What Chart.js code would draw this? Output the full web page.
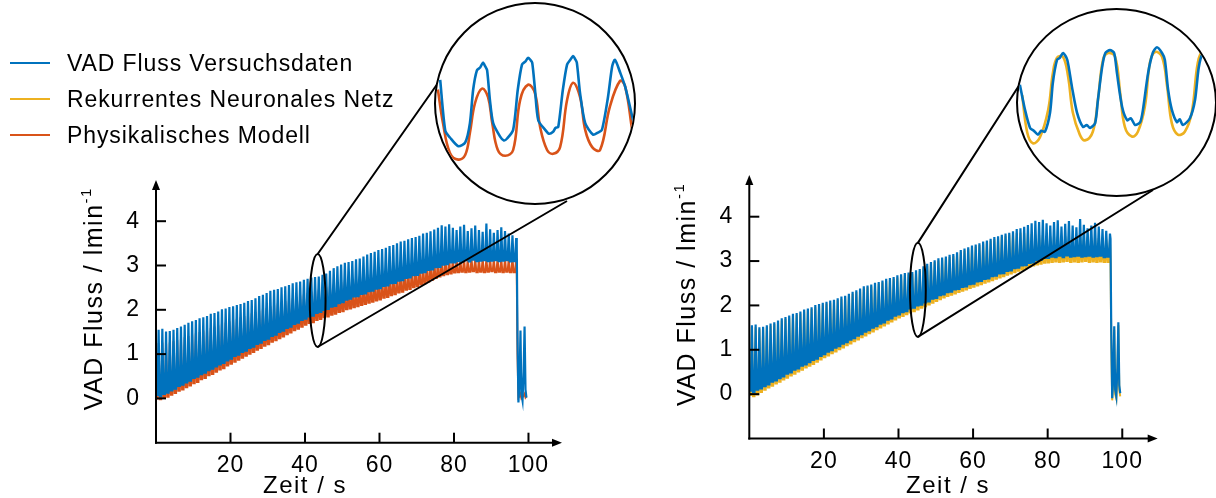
<!DOCTYPE html>
<html>
<head>
<meta charset="utf-8">
<script src="https://cdn.jsdelivr.net/npm/chart.js@4.4.1/dist/chart.umd.min.js"></script>
<style>
html,body{margin:0;padding:0;background:#fff;overflow:hidden;width:1216px;height:498px;}
#wrap{position:relative;width:1216px;height:498px;overflow:hidden;}
canvas.main{position:absolute;top:0;}
.inset{position:absolute;border:2px solid #000;border-radius:50%;overflow:hidden;box-sizing:border-box;background:#fff;z-index:2;}
.inset canvas{display:block;}
#legend{position:absolute;left:0;top:0;z-index:3;font-family:"Liberation Sans",Arial,sans-serif;font-size:23px;letter-spacing:0.9px;color:#000;}
.item{position:absolute;left:10px;height:26px;display:flex;align-items:center;white-space:nowrap;}
.sw{display:inline-block;width:40px;height:2px;margin-right:17px;}
</style>
</head>
<body>
<div id="wrap">
  <canvas id="left" class="main" width="608" height="498" style="left:0"></canvas>
  <canvas id="right" class="main" width="608" height="498" style="left:608px"></canvas>
  <div class="inset" style="left:434px;top:2px;width:202px;height:203px;"><canvas id="insetL" width="198" height="199"></canvas></div>
  <div class="inset" style="left:1016px;top:8px;width:201px;height:189px;"><canvas id="insetR" width="197" height="185"></canvas></div>
  <div id="legend">
    <div class="item" style="top:50px"><span class="sw" style="background:#0072BD"></span>VAD Fluss Versuchsdaten</div>
    <div class="item" style="top:86px"><span class="sw" style="background:#EDB120"></span>Rekurrentes Neuronales Netz</div>
    <div class="item" style="top:122px"><span class="sw" style="background:#D95319"></span>Physikalisches Modell</div>
  </div>
</div>
<script>
// ================= DATA =================
// Tick labels
const xTickValues = [20, 40, 60, 80, 100];
const yTickValues = [0, 1, 2, 3, 4];

// Pump cycles (about 1 s each). Each cycle: diastolic plateau at the trough value
// (t = k ... k+0.4 s), then the systolic peak (t = k+0.7 s).
const cyclePhase = {troughStart: 0, troughEnd: 0.4, peak: 0.7};
// VAD Fluss Versuchsdaten (measured)
const vadTroughs = [0.08,0.05,0.10,0.13,0.18,0.22,0.28,0.31,0.36,0.40,
  0.46,0.49,0.55,0.58,0.64,0.67,0.72,0.77,0.80,0.86,
  0.90,0.96,0.99,1.05,1.08,1.14,1.17,1.23,1.26,1.32,
  1.35,1.41,1.44,1.50,1.53,1.59,1.62,1.68,1.71,1.77,
  1.80,1.85,1.87,1.93,1.95,2.00,2.02,2.07,2.09,2.15,
  2.17,2.23,2.25,2.30,2.31,2.36,2.37,2.42,2.43,2.48,
  2.49,2.54,2.55,2.60,2.61,2.66,2.67,2.72,2.73,2.78,
  2.79,2.84,2.85,2.90,2.91,2.96,2.97,3.02,3.03,3.07,
  3.07,3.10,3.09,3.12,3.09,3.13,3.10,3.11,3.12,3.10,
  3.11,3.12,3.10,3.11,3.12,3.09,3.10];
const vadPeaks = [1.55,1.57,1.51,1.52,1.55,1.59,1.62,1.66,1.71,1.74,
  1.77,1.81,1.83,1.86,1.91,1.93,1.96,2.01,2.03,2.06,
  2.08,2.11,2.13,2.16,2.20,2.22,2.26,2.31,2.34,2.38,
  2.43,2.45,2.47,2.51,2.53,2.56,2.60,2.62,2.64,2.68,
  2.70,2.73,2.74,2.75,2.79,2.82,2.88,2.94,2.98,3.02,
  3.06,3.08,3.10,3.14,3.16,3.20,3.25,3.28,3.31,3.35,
  3.37,3.40,3.44,3.46,3.50,3.54,3.56,3.59,3.62,3.64,
  3.67,3.72,3.74,3.77,3.81,3.85,3.91,3.88,3.93,3.85,
  3.80,3.88,3.92,3.78,3.84,3.90,3.80,3.76,3.95,3.82,
  3.74,3.80,3.86,3.78,3.72,3.68,3.62];
// Physikalisches Modell
const physTroughs = [0.00,-0.02,0.01,0.04,0.08,0.12,0.17,0.20,0.25,0.29,
  0.34,0.37,0.43,0.46,0.52,0.55,0.60,0.65,0.68,0.74,
  0.78,0.83,0.87,0.92,0.96,1.01,1.05,1.10,1.14,1.19,
  1.22,1.28,1.31,1.36,1.40,1.45,1.49,1.54,1.57,1.62,
  1.66,1.70,1.72,1.77,1.79,1.83,1.85,1.89,1.91,1.95,
  1.97,2.01,2.03,2.06,2.08,2.11,2.13,2.16,2.18,2.21,
  2.23,2.27,2.29,2.33,2.35,2.39,2.41,2.45,2.47,2.51,
  2.53,2.57,2.60,2.64,2.68,2.72,2.75,2.78,2.80,2.82,
  2.84,2.85,2.86,2.85,2.86,2.87,2.85,2.86,2.85,2.86,
  2.87,2.85,2.86,2.85,2.86,2.85,2.85];
const physPeaks = [1.25,1.26,1.24,1.26,1.29,1.32,1.35,1.38,1.41,1.44,
  1.47,1.50,1.53,1.56,1.59,1.62,1.65,1.68,1.71,1.74,
  1.77,1.80,1.83,1.86,1.89,1.92,1.95,1.98,2.01,2.04,
  2.08,2.11,2.14,2.17,2.20,2.23,2.26,2.29,2.32,2.35,
  2.38,2.41,2.44,2.46,2.48,2.51,2.54,2.57,2.60,2.63,
  2.66,2.69,2.71,2.73,2.75,2.77,2.79,2.81,2.83,2.85,
  2.87,2.89,2.91,2.93,2.95,2.97,2.99,3.01,3.03,3.05,
  3.07,3.09,3.11,3.13,3.15,3.17,3.18,3.18,3.17,3.16,
  3.16,3.15,3.16,3.15,3.16,3.17,3.15,3.16,3.15,3.16,
  3.15,3.16,3.15,3.16,3.15,3.16,3.15];
// Rekurrentes Neuronales Netz
const rnnTroughs = [-0.02,-0.05,-0.01,0.05,0.10,0.15,0.19,0.24,0.28,0.33,
  0.37,0.42,0.46,0.51,0.55,0.60,0.64,0.68,0.73,0.78,
  0.83,0.87,0.92,0.96,1.01,1.05,1.10,1.14,1.19,1.23,
  1.28,1.32,1.37,1.41,1.46,1.50,1.55,1.59,1.64,1.68,
  1.73,1.76,1.80,1.84,1.87,1.91,1.95,1.98,2.02,2.06,
  2.10,2.14,2.18,2.21,2.24,2.27,2.30,2.33,2.36,2.39,
  2.42,2.45,2.48,2.51,2.54,2.57,2.60,2.63,2.66,2.69,
  2.72,2.75,2.78,2.81,2.84,2.87,2.90,2.92,2.94,2.96,
  2.97,2.98,2.99,2.98,2.99,3.00,2.98,2.99,2.98,2.99,
  3.00,2.98,2.99,2.98,2.99,2.98,2.98];
const rnnPeaks = [1.50,1.51,1.46,1.48,1.51,1.54,1.58,1.62,1.66,1.70,
  1.73,1.76,1.79,1.82,1.86,1.89,1.92,1.96,1.99,2.02,
  2.04,2.06,2.09,2.12,2.15,2.18,2.22,2.26,2.30,2.34,
  2.38,2.41,2.43,2.46,2.49,2.52,2.55,2.58,2.60,2.63,
  2.66,2.68,2.70,2.71,2.74,2.78,2.84,2.89,2.94,2.98,
  3.01,3.04,3.06,3.09,3.12,3.16,3.20,3.24,3.27,3.30,
  3.33,3.36,3.39,3.42,3.46,3.49,3.52,3.55,3.57,3.60,
  3.62,3.63,3.64,3.63,3.62,3.61,3.60,3.59,3.58,3.57,
  3.56,3.56,3.55,3.55,3.56,3.55,3.54,3.55,3.54,3.55,
  3.54,3.53,3.52,3.52,3.51,3.50,3.45];
// Shut-down at the end of the run
const tailTimes  = [96.85, 97.05, 97.3, 97.6, 97.85, 98.1, 98.4, 98.7, 98.95, 99.2, 99.45];
const vadTail    = [3.50, 1.40, -0.09, 0.40, 1.53, 0.10, -0.05, 0.60, 1.62, 0.20, 0.02];
const physTail   = [2.86, 1.00, 0.02, 0.05, 0.10, 0.00, 0.03, 0.06, 0.10, 0.02, 0.05];
const rnnTail    = [3.00, 1.20, -0.14, 0.30, 1.45, 0.00, -0.10, 0.50, 1.55, 0.10, -0.05];

// Zoomed insets (t in s, flow in l/min)
const insetLVadT = [41.61,41.72,41.82,42.00,42.15,42.25,42.32,42.40,42.47,42.53,42.58,42.62,42.68,42.75,42.90,42.98,43.05,43.18,43.28,43.37,43.44,43.50,43.55,43.59,43.65,43.72,43.87,43.95,44.04,44.09,44.15,44.25,44.34,44.41,44.47,44.51,44.55,44.62,44.73,44.90,45.00,45.09,45.22,45.31,45.37,45.48,45.59,45.76];
const insetLVad  = [2.49,1.96,1.89,1.80,1.84,2.04,2.39,2.59,2.62,2.67,2.63,2.59,2.28,2.04,1.90,1.86,1.88,1.97,2.39,2.65,2.68,2.72,2.70,2.67,2.39,2.07,1.97,1.93,1.95,1.99,2.00,2.39,2.65,2.70,2.74,2.71,2.67,2.35,2.04,1.92,1.94,1.97,2.31,2.63,2.70,2.57,2.42,2.07];
const insetLPhysT = [41.56,41.67,41.82,42.00,42.15,42.25,42.36,42.51,42.64,42.73,42.85,43.01,43.18,43.33,43.50,43.65,43.76,43.91,44.04,44.19,44.34,44.47,44.62,44.73,44.88,45.05,45.26,45.48,45.59,45.74];
const insetLPhys  = [2.39,2.04,1.73,1.66,1.71,1.94,2.25,2.40,2.31,2.04,1.76,1.70,1.76,2.28,2.44,2.35,2.00,1.76,1.72,1.79,2.28,2.46,2.31,1.97,1.79,1.76,2.21,2.48,2.42,1.97];
const insetRVadT = [43.16,43.27,43.38,43.46,43.55,43.62,43.70,43.81,43.87,43.96,44.02,44.09,44.18,44.28,44.39,44.52,44.60,44.67,44.78,44.84,44.93,45.00,45.10,45.19,45.25,45.36,45.47,45.55,45.64,45.75,45.81,45.92,46.02,46.11,46.22,46.28,46.35,46.43,46.54,46.60,46.67,46.82,46.93,47.01,47.10,47.19,47.29];
const insetRVad  = [2.58,2.32,2.13,2.10,2.06,2.10,2.09,2.29,2.60,2.84,2.86,2.91,2.84,2.56,2.29,2.14,2.16,2.13,2.18,2.42,2.76,2.91,2.94,2.91,2.70,2.35,2.21,2.23,2.16,2.19,2.32,2.70,2.91,2.97,2.91,2.84,2.53,2.32,2.19,2.22,2.16,2.23,2.42,2.76,2.91,2.89,2.70];
const insetRRnnT = [43.21,43.32,43.44,43.59,43.77,43.87,43.96,44.09,44.20,44.30,44.45,44.56,44.73,44.84,44.95,45.06,45.21,45.32,45.42,45.57,45.70,45.85,45.96,46.07,46.22,46.33,46.43,46.56,46.71,46.86,46.99,47.10,47.21];
const insetRRnn  = [2.47,2.08,1.97,2.03,2.32,2.70,2.86,2.87,2.66,2.29,2.06,2.00,2.09,2.42,2.84,2.91,2.87,2.49,2.14,2.04,2.09,2.35,2.81,2.92,2.87,2.56,2.18,2.06,2.09,2.29,2.81,2.93,2.87];

// ================= STYLE / LAYOUT =================
const BLUE = '#0072BD', ORANGE = '#D95319', YELLOW = '#EDB120';
const FONT = '"Liberation Sans", Arial, Helvetica, sans-serif';
Chart.defaults.font.family = FONT;
Chart.defaults.color = '#000';

function series(troughs, peaks, tail) {
  const pts = [];
  for (let k = 0; k < troughs.length; k++) {
    pts.push({x: k + cyclePhase.troughStart, y: troughs[k]});
    pts.push({x: k + cyclePhase.troughEnd, y: troughs[k]});
    pts.push({x: k + cyclePhase.peak, y: peaks[k]});
  }
  tailTimes.forEach((t, i) => pts.push({x: t, y: tail[i]}));
  return pts;
}
function pairs(ts, vs) { return ts.map((t, i) => ({x: t, y: vs[i]})); }

const decoPlugin = {
  id: 'deco',
  beforeDraw(chart) { chart.ctx.letterSpacing = '1px'; },
  afterDatasetsDraw(chart, args, o) {
    const {ctx, chartArea: a, scales: {x, y}} = chart;
    ctx.save();
    ctx.letterSpacing = '0px';
    ctx.strokeStyle = '#000'; ctx.fillStyle = '#000'; ctx.lineWidth = 2;
    const x0 = a.left, y0 = a.bottom;
    // axes with arrows
    ctx.beginPath(); ctx.moveTo(x0, y0 + 1); ctx.lineTo(x0, a.top + 6); ctx.stroke();
    ctx.beginPath(); ctx.moveTo(x0, a.top); ctx.lineTo(x0 - 4, a.top + 10); ctx.lineTo(x0 + 4, a.top + 10); ctx.closePath(); ctx.fill();
    ctx.beginPath(); ctx.moveTo(x0 - 1, y0); ctx.lineTo(a.right - 6, y0); ctx.stroke();
    ctx.beginPath(); ctx.moveTo(a.right, y0); ctx.lineTo(a.right - 10, y0 - 4); ctx.lineTo(a.right - 10, y0 + 4); ctx.closePath(); ctx.fill();
    // inward tick marks
    yTickValues.forEach(v => { const p = y.getPixelForValue(v); ctx.beginPath(); ctx.moveTo(x0, p); ctx.lineTo(x0 + 10, p); ctx.stroke(); });
    xTickValues.forEach(v => { const p = x.getPixelForValue(v); ctx.beginPath(); ctx.moveTo(p, y0); ctx.lineTo(p, y0 - 10); ctx.stroke(); });
    // zoom ellipse
    const ex = x.getPixelForValue(o.zoomT), ey = y.getPixelForValue(o.zoomV);
    const rx = Math.abs(x.getPixelForValue(o.zoomT + o.zoomHalfT) - ex);
    const ry = Math.abs(y.getPixelForValue(o.zoomV + o.zoomHalfV) - ey);
    ctx.beginPath(); ctx.ellipse(ex, ey, rx, ry, 0, 0, Math.PI * 2); ctx.stroke();
    // connectors to inset
    ctx.beginPath();
    ctx.moveTo(ex, ey - ry); ctx.lineTo(o.topEnd[0] - o.offsetX, o.topEnd[1]);
    ctx.moveTo(ex, ey + ry); ctx.lineTo(o.bottomEnd[0] - o.offsetX, o.bottomEnd[1]);
    ctx.stroke();
    // axis titles
    ctx.letterSpacing = '1.5px';
    ctx.font = '24px ' + FONT;
    ctx.textAlign = 'center'; ctx.textBaseline = 'alphabetic';
    ctx.fillText('Zeit / s', x.getPixelForValue(o.xTitleAt), 493);
    ctx.translate(x0 - 61, y.getPixelForValue(2.25));
    ctx.rotate(-Math.PI / 2);
    const main = 'VAD Fluss / lmin', sup = '-1';
    ctx.font = '25px ' + FONT; const w1 = ctx.measureText(main).width;
    ctx.font = '15px ' + FONT; const w2 = ctx.measureText(sup).width;
    const s = -(w1 + w2) / 2;
    ctx.textAlign = 'left'; ctx.textBaseline = 'middle';
    ctx.font = '25px ' + FONT; ctx.fillText(main, s, 0);
    ctx.font = '15px ' + FONT; ctx.fillText(sup, s + w1, -8);
    ctx.restore();
  }
};

function mainChart(id, datasets, pad, xmax, ymax, deco) {
  return new Chart(document.getElementById(id), {
    type: 'line',
    data: {datasets},
    options: {
      responsive: false, animation: false, devicePixelRatio: 1,
      layout: {padding: pad},
      elements: {point: {radius: 0}, line: {tension: 0}},
      plugins: {legend: {display: false}, tooltip: {enabled: false}, deco},
      scales: {
        x: {type: 'linear', min: 0, max: xmax,
            grid: {display: false, drawTicks: false}, border: {display: false},
            afterBuildTicks: sc => { sc.ticks = xTickValues.map(v => ({value: v})); },
            afterFit: sc => { sc.height = 40; },
            ticks: {font: {size: 23}, padding: 9, maxRotation: 0, autoSkip: false, color: '#000'}},
        y: {type: 'linear', min: -1, max: ymax,
            grid: {display: false, drawTicks: false}, border: {display: false},
            afterBuildTicks: sc => { sc.ticks = yTickValues.map(v => ({value: v})); },
            afterFit: sc => { sc.width = 40; },
            ticks: {font: {size: 23}, padding: 16, color: '#000'}}
      }
    },
    plugins: [decoPlugin]
  });
}

mainChart('left', [
  {label: 'VAD Fluss Versuchsdaten', data: series(vadTroughs, vadPeaks, vadTail), borderColor: BLUE, borderWidth: 2.2},
  {label: 'Physikalisches Modell', data: series(physTroughs, physPeaks, physTail), borderColor: ORANGE, borderWidth: 2.0}
], {left: 116, right: 46, top: 180, bottom: 15.3}, 109, 4.93,
  {zoomT: 43.4, zoomV: 2.21, zoomHalfT: 2.12, zoomHalfV: 1.05, offsetX: 0,
   topEnd: [438, 83], bottomEnd: [567, 201], xTitleAt: 40});

mainChart('right', [
  {label: 'VAD Fluss Versuchsdaten', data: series(vadTroughs, vadPeaks, vadTail), borderColor: BLUE, borderWidth: 2.2},
  {label: 'Rekurrentes Neuronales Netz', data: series(rnnTroughs, rnnPeaks, rnnTail), borderColor: YELLOW, borderWidth: 2.0}
], {left: 101.3, right: 58.3, top: 175, bottom: 19.5}, 109.5, 4.94,
  {zoomT: 45.2, zoomV: 2.35, zoomHalfT: 2.12, zoomHalfV: 1.06, offsetX: 608,
   topEnd: [1020, 84], bottomEnd: [1153, 190], xTitleAt: 53.3});

function insetChart(id, datasets, xr, yr) {
  return new Chart(document.getElementById(id), {
    type: 'line',
    data: {datasets},
    options: {
      responsive: false, animation: false, devicePixelRatio: 1,
      layout: {padding: 0},
      elements: {point: {radius: 0}},
      plugins: {legend: {display: false}, tooltip: {enabled: false}},
      scales: {
        x: {type: 'linear', display: false, min: xr[0], max: xr[1]},
        y: {type: 'linear', display: false, min: yr[0], max: yr[1]}
      }
    }
  });
}
insetChart('insetL', [
  {data: pairs(insetLVadT, insetLVad), borderColor: BLUE, borderWidth: 2.6, tension: 0.25},
  {data: pairs(insetLPhysT, insetLPhys), borderColor: ORANGE, borderWidth: 2.6, tension: 0.4}
], [41.52, 45.78], [1.208, 3.281]);
insetChart('insetR', [
  {data: pairs(insetRVadT, insetRVad), borderColor: BLUE, borderWidth: 2.6, tension: 0.25},
  {data: pairs(insetRRnnT, insetRRnn), borderColor: YELLOW, borderWidth: 2.6, tension: 0.4}
], [43.12, 47.36], [1.431, 3.358]);
</script>
</body>
</html>
